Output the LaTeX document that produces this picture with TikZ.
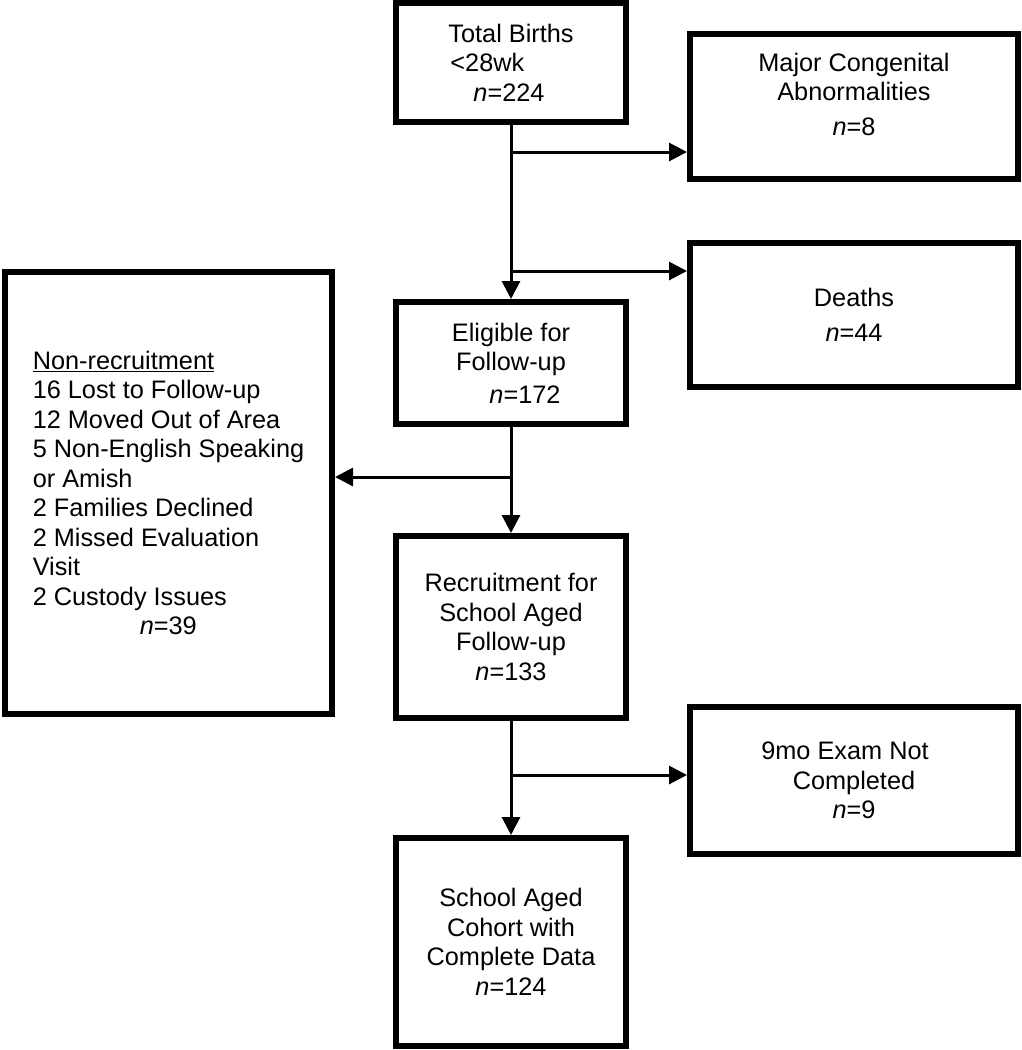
\documentclass[tikz,border=0pt]{standalone}
\usepackage{fontspec}
\setmainfont{Liberation Sans}
\usetikzlibrary{arrows.meta}
\begin{document}
\begin{tikzpicture}[x=1pt,y=-1pt,
  box/.style={draw=black, line width=6pt, fill=white, inner sep=0pt,
    font=\fontsize{25.3}{29.5}\selectfont, align=center},
  arr/.style={line width=3pt, -{Triangle[length=18pt,width=18pt]}},
  link/.style={line width=3pt}]
\useasboundingbox (0,0) rectangle (1021,1050);
% boxes
\node[box, align=left, minimum width=230pt, minimum height=119pt] (tb) at (511,62.5)
  {Total Births\\\hspace*{2pt}<28wk\\\hspace*{25pt}\textit{n}=224};
\node[box, minimum width=328pt, minimum height=145pt] (major) at (854,106.5) {};
\node[font=\fontsize{25.3}{29.5}\selectfont, align=center, inner sep=0pt] (majort) at (854,94)
  {Major Congenital\\Abnormalities\\[5pt]\textit{n}=8};
\node[box, minimum width=328pt, minimum height=144pt] (deaths) at (854,315)
  {Deaths\\[5pt]\textit{n}=44};
\node[box, minimum width=230pt, minimum height=122pt] (elig) at (511,363)
  {Eligible for\\Follow-up\\[3pt]\hspace*{28pt}\textit{n}=172};
\node[box, align=left, minimum width=327pt, minimum height=442pt] (nonrec) at (168.5,493)
  {\underline{Non-recruitment}\\16 Lost to Follow-up\\12 Moved Out of Area\\5 Non-English Speaking\\or Amish\\2 Families Declined\\2 Missed Evaluation\\Visit\\2 Custody Issues\\\hspace*{107pt}\textit{n}=39};
\node[box, minimum width=230pt, minimum height=182pt] (recr) at (511,627)
  {Recruitment for\\School Aged\\Follow-up\\\textit{n}=133};
\node[box, minimum width=328pt, minimum height=147pt] (ninemo) at (854,780.5)
  {9mo Exam Not\hspace*{18pt}\\Completed\\\textit{n}=9};
\node[box, minimum width=230pt, minimum height=208pt] (school) at (511,942)
  {School Aged\\Cohort with\\Complete Data\\\textit{n}=124};
% branch points
\coordinate (b1) at (511,152);
\coordinate (b2) at (511,271);
\coordinate (b3) at (511,477);
\coordinate (b4) at (511,775);
% connectors
\draw[arr] (tb.south) -- (elig.north);
\draw[arr] (b1) -- (b1 -| major.west);
\draw[arr] (b2) -- (b2 -| deaths.west);
\draw[arr] (elig.south) -- (recr.north);
\draw[arr] (b3) -- (b3 -| nonrec.east);
\draw[arr] (recr.south) -- (school.north);
\draw[arr] (b4) -- (b4 -| ninemo.west);
\end{tikzpicture}
\end{document}
